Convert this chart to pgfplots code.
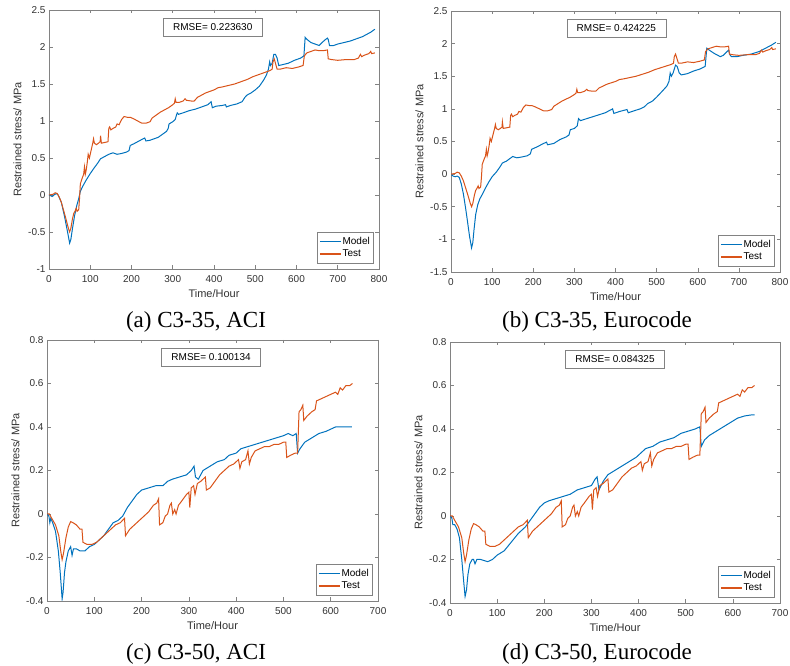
\documentclass[border=0pt]{standalone}
\usepackage{fontspec}
\setmainfont{Liberation Sans}
\newfontfamily\capfont{Liberation Serif}
\usepackage{pgfplots}
\usepackage{pgfplotstable}
\pgfplotsset{compat=1.18}
\definecolor{mblue}{RGB}{0,114,189}
\definecolor{morange}{RGB}{217,83,25}
\definecolor{axgray}{RGB}{130,130,130}
\definecolor{txtgray}{RGB}{50,50,50}

\pgfplotstableread{
x y
0 0
10 0.01
15 0.03
20 0.02
25 -0.03
30 -0.1
40 -0.3
47 -0.45
50 -0.5
53 -0.45
57 -0.32
60 -0.25
63 -0.22
66 -0.18
68 -0.22
72 -0.2
74 -0.05
76 0.15
80 0.22
84 0.28
86 0.38
88 0.28
90 0.33
93 0.45
95 0.55
98 0.5
102 0.6
106 0.7
108 0.76
110 0.7
115 0.68
120 0.7
124 0.72
125 0.8
127 0.7
135 0.71
143 0.72
145 0.9
147 0.92
150 0.88
155 0.9
162 0.92
165 0.96
170 0.95
176 1.02
182 1.06
190 1.05
197 1.05
205 1.03
215 1.0
225 0.97
235 0.97
245 0.99
250 1.04
260 1.08
270 1.12
280 1.15
290 1.18
300 1.22
304 1.24
306 1.3
308 1.25
315 1.25
325 1.27
330 1.3
333 1.28
345 1.27
352 1.27
360 1.32
370 1.35
380 1.38
390 1.4
400 1.42
410 1.45
420 1.46
435 1.48
450 1.5
465 1.53
480 1.56
495 1.6
505 1.62
515 1.64
525 1.66
535 1.68
541 1.7
543 1.8
546 1.84
550 1.76
553 1.7
560 1.7
575 1.72
590 1.71
605 1.73
616 1.75
619 1.88
625 1.92
635 1.94
645 1.96
655 1.95
665 1.95
675 1.96
677 1.84
685 1.83
700 1.82
720 1.83
740 1.83
750 1.85
755 1.9
758 1.87
765 1.89
775 1.91
780 1.94
782 1.91
790 1.92
}\testTop

\pgfplotstableread{
x y
0 0
8 -0.02
12 0.0
18 0.02
22 0.0
30 -0.1
38 -0.3
45 -0.5
50 -0.65
53 -0.6
57 -0.45
62 -0.28
67 -0.15
72 -0.05
76 0.05
82 0.12
90 0.2
100 0.29
110 0.37
118 0.43
125 0.49
135 0.52
145 0.55
155 0.57
165 0.55
175 0.56
188 0.58
194 0.6
197 0.67
205 0.69
215 0.72
225 0.75
232 0.77
235 0.73
245 0.74
255 0.76
265 0.78
275 0.82
285 0.86
289 0.9
291 0.96
300 0.99
306 1.02
309 1.08
311 1.11
314 1.09
325 1.11
340 1.14
355 1.16
370 1.19
385 1.22
393 1.26
396 1.18
405 1.2
420 1.21
428 1.22
430 1.19
440 1.21
455 1.23
468 1.26
475 1.32
480 1.35
490 1.38
500 1.42
510 1.47
520 1.55
527 1.62
532 1.7
535 1.8
537 1.75
541 1.78
545 1.9
549 1.9
553 1.85
557 1.75
565 1.76
580 1.78
595 1.82
610 1.85
618 1.88
621 2.13
626 2.1
635 2.06
645 2.04
655 2.02
662 2.06
670 2.1
675 2.12
677 2.1
680 2.02
690 2.02
700 2.04
715 2.06
730 2.08
745 2.11
760 2.14
770 2.17
780 2.2
790 2.24
}\modelA

\pgfplotstableread{
x y
0 0
5 -0.03
10 -0.04
15 -0.03
20 -0.05
25 -0.15
30 -0.3
35 -0.5
40 -0.72
45 -0.95
50 -1.13
53 -1.05
56 -0.85
60 -0.62
65 -0.47
70 -0.38
77 -0.3
85 -0.2
92 -0.12
100 -0.04
110 0.03
118 0.1
125 0.17
135 0.2
150 0.27
160 0.25
170 0.26
185 0.28
193 0.31
196 0.38
210 0.42
222 0.46
232 0.49
235 0.45
250 0.47
265 0.53
280 0.57
287 0.6
290 0.68
300 0.7
307 0.74
310 0.85
315 0.82
330 0.85
345 0.88
360 0.91
375 0.94
393 1.0
396 0.93
410 0.96
428 0.99
431 0.94
445 0.97
460 1.0
470 1.03
478 1.08
490 1.12
500 1.18
515 1.28
525 1.35
530 1.42
533 1.55
536 1.5
540 1.55
546 1.67
550 1.65
555 1.55
560 1.52
575 1.54
590 1.58
605 1.61
618 1.65
622 1.93
628 1.9
640 1.85
655 1.8
662 1.82
670 1.87
675 1.9
678 1.83
682 1.8
695 1.8
710 1.82
730 1.84
750 1.88
765 1.93
780 1.98
790 2.02
}\modelB

\pgfplotstableread{
x y
0 0
5 0.0
10 -0.02
18 -0.05
25 -0.1
29 -0.17
32 -0.21
35 -0.18
40 -0.11
45 -0.06
50 -0.035
55 -0.04
62 -0.05
70 -0.07
74 -0.07
76 -0.13
85 -0.14
95 -0.14
105 -0.13
115 -0.11
125 -0.09
135 -0.07
145 -0.05
155 -0.04
164 -0.02
166 -0.1
175 -0.07
185 -0.05
195 -0.03
205 -0.01
215 0.01
225 0.04
232 0.05
236 0.07
238 -0.05
245 -0.04
250 -0.01
255 0.0
260 0.04
263 0.05
266 0.0
270 0.02
273 0.0
278 0.04
285 0.06
295 0.09
300 0.1
302 0.03
305 0.12
310 0.13
313 0.09
318 0.14
325 0.15
335 0.17
337 0.11
345 0.12
355 0.15
365 0.18
375 0.2
385 0.22
395 0.23
405 0.25
408 0.21
412 0.24
420 0.25
425 0.29
428 0.23
432 0.26
440 0.29
450 0.3
460 0.31
470 0.31
480 0.32
490 0.32
500 0.33
505 0.33
507 0.26
515 0.27
525 0.28
530 0.28
533 0.47
537 0.48
541 0.5
543 0.43
550 0.45
560 0.47
567 0.48
570 0.52
580 0.53
590 0.54
600 0.55
610 0.56
615 0.55
620 0.58
625 0.57
632 0.59
640 0.59
646 0.6
}\testBot

\pgfplotstableread{
x y
0 0
4 -0.01
6 -0.04
8 -0.02
12 -0.04
18 -0.08
24 -0.17
28 -0.27
32 -0.39
34 -0.36
37 -0.27
40 -0.22
45 -0.17
50 -0.15
53 -0.19
56 -0.16
62 -0.16
70 -0.17
80 -0.17
90 -0.15
100 -0.14
110 -0.12
120 -0.1
130 -0.07
140 -0.04
150 -0.03
160 -0.01
170 0.03
180 0.06
190 0.09
200 0.11
215 0.12
230 0.13
245 0.13
255 0.15
265 0.16
280 0.17
295 0.18
305 0.2
311 0.22
314 0.17
320 0.16
330 0.2
345 0.22
360 0.24
375 0.25
385 0.27
400 0.28
410 0.3
425 0.31
440 0.32
455 0.33
470 0.34
485 0.35
500 0.36
510 0.37
520 0.36
527 0.37
530 0.28
535 0.3
545 0.33
560 0.35
575 0.37
590 0.38
600 0.39
610 0.4
620 0.4
630 0.4
645 0.4
}\modelC

\pgfplotstableread{
x y
0 0
4 -0.01
6 -0.04
10 -0.04
15 -0.06
20 -0.1
25 -0.2
29 -0.3
32 -0.37
35 -0.34
38 -0.27
42 -0.22
47 -0.2
50 -0.2
53 -0.22
57 -0.2
65 -0.2
80 -0.21
90 -0.2
100 -0.18
115 -0.16
130 -0.12
145 -0.08
160 -0.05
170 -0.02
180 0.01
190 0.04
200 0.06
210 0.07
225 0.08
240 0.09
255 0.1
270 0.12
285 0.13
300 0.14
308 0.17
312 0.18
316 0.12
325 0.16
335 0.19
350 0.21
365 0.23
380 0.25
395 0.27
405 0.29
415 0.31
430 0.32
445 0.34
460 0.35
475 0.36
490 0.38
505 0.39
520 0.4
530 0.41
533 0.32
540 0.35
550 0.37
565 0.39
580 0.41
595 0.43
610 0.45
625 0.46
640 0.465
646 0.465
}\modelD

\pgfplotsset{
  matlab/.style={
    scale only axis,
    axis line style={axgray, line width=0.5pt},
    every tick/.style={axgray, line width=0.5pt},
    tick align=inside,
    major tick length=3.5pt,
    tick label style={font=\fontsize{10}{12}\selectfont, text=txtgray},
    xticklabel style={yshift=-3pt},
    label style={font=\fontsize{11}{13}\selectfont, text=txtgray},
    /pgf/number format/assume math mode=true,
    /pgf/number format/fixed,
    scaled ticks=false,
    xlabel={Time/Hour},
    ylabel={Restrained stress/ MPa},
    legend cell align=left,
    legend style={at={(1,0)}, anchor=south east, xshift=-6pt, yshift=6pt,
      draw=axgray, font=\fontsize{10}{12}\selectfont, text=black,
      inner xsep=2pt, inner ysep=2.5pt, row sep=0pt,
      nodes={inner xsep=1pt}},
    legend image code/.code={\draw[#1, line width=1.6pt] (0pt,0pt) -- (21pt,0pt);},
  },
  mod/.style={draw=mblue, color=mblue, line width=1pt, no markers},
  tst/.style={draw=morange, color=morange, line width=1pt, no markers},
}
\tikzset{
  rmse/.style={draw=axgray, fill=white, font=\fontsize{10}{12}\selectfont,
    text=black, inner xsep=5pt, minimum height=18pt, minimum width=99pt}
}

\begin{document}
\begin{tikzpicture}
\useasboundingbox (0,0) rectangle (790pt,666pt);

% (a)
\begin{axis}[matlab, at={(49pt,397pt)}, anchor=south west,
  width=330pt, height=259pt,
  xmin=0, xmax=800, ymin=-1, ymax=2.5,
  xtick={0,100,...,800}, ytick={-1,-0.5,0,0.5,1,1.5,2,2.5}]
\addplot[mod] table[x=x,y=y] {\modelA};
\addplot[tst] table[x=x,y=y] {\testTop};
\legend{Model,Test}
\node[rmse] at (axis cs:397,2.27) {RMSE= 0.223630};
\end{axis}

% (b)
\begin{axis}[matlab, at={(451pt,394pt)}, anchor=south west,
  width=329pt, height=261pt,
  xmin=0, xmax=800, ymin=-1.5, ymax=2.5,
  xtick={0,100,...,800}, ytick={-1.5,-1,-0.5,0,0.5,1,1.5,2,2.5}]
\addplot[mod] table[x=x,y=y] {\modelB};
\addplot[tst] table[x=x,y=y] {\testTop};
\legend{Model,Test}
\node[rmse] at (axis cs:402,2.24) {RMSE= 0.424225};
\end{axis}

% (c)
\begin{axis}[matlab, at={(47pt,65pt)}, anchor=south west,
  width=331pt, height=261pt,
  xmin=0, xmax=700, ymin=-0.4, ymax=0.8,
  xtick={0,100,...,700}, ytick={-0.4,-0.2,0,0.2,0.4,0.6,0.8}]
\addplot[mod] table[x=x,y=y] {\modelC};
\addplot[tst] table[x=x,y=y] {\testBot};
\legend{Model,Test}
\node[rmse] at (axis cs:347,0.72) {RMSE= 0.100134};
\end{axis}

% (d)
\begin{axis}[matlab, at={(450pt,63pt)}, anchor=south west,
  width=330pt, height=261pt,
  xmin=0, xmax=700, ymin=-0.4, ymax=0.8,
  xtick={0,100,...,700}, ytick={-0.4,-0.2,0,0.2,0.4,0.6,0.8}]
\addplot[mod] table[x=x,y=y] {\modelD};
\addplot[tst] table[x=x,y=y] {\testBot};
\legend{Model,Test}
\node[rmse] at (axis cs:350,0.72) {RMSE= 0.084325};
\end{axis}

\node[anchor=base, font=\capfont\fontsize{23}{27}\selectfont] at (196pt,338pt) {(a) C3-35, ACI};
\node[anchor=base, font=\capfont\fontsize{23}{27}\selectfont] at (597pt,338pt) {(b) C3-35, Eurocode};
\node[anchor=base, font=\capfont\fontsize{23}{27}\selectfont] at (196pt,6pt) {(c) C3-50, ACI};
\node[anchor=base, font=\capfont\fontsize{23}{27}\selectfont] at (597pt,6pt) {(d) C3-50, Eurocode};
\end{tikzpicture}
\end{document}
